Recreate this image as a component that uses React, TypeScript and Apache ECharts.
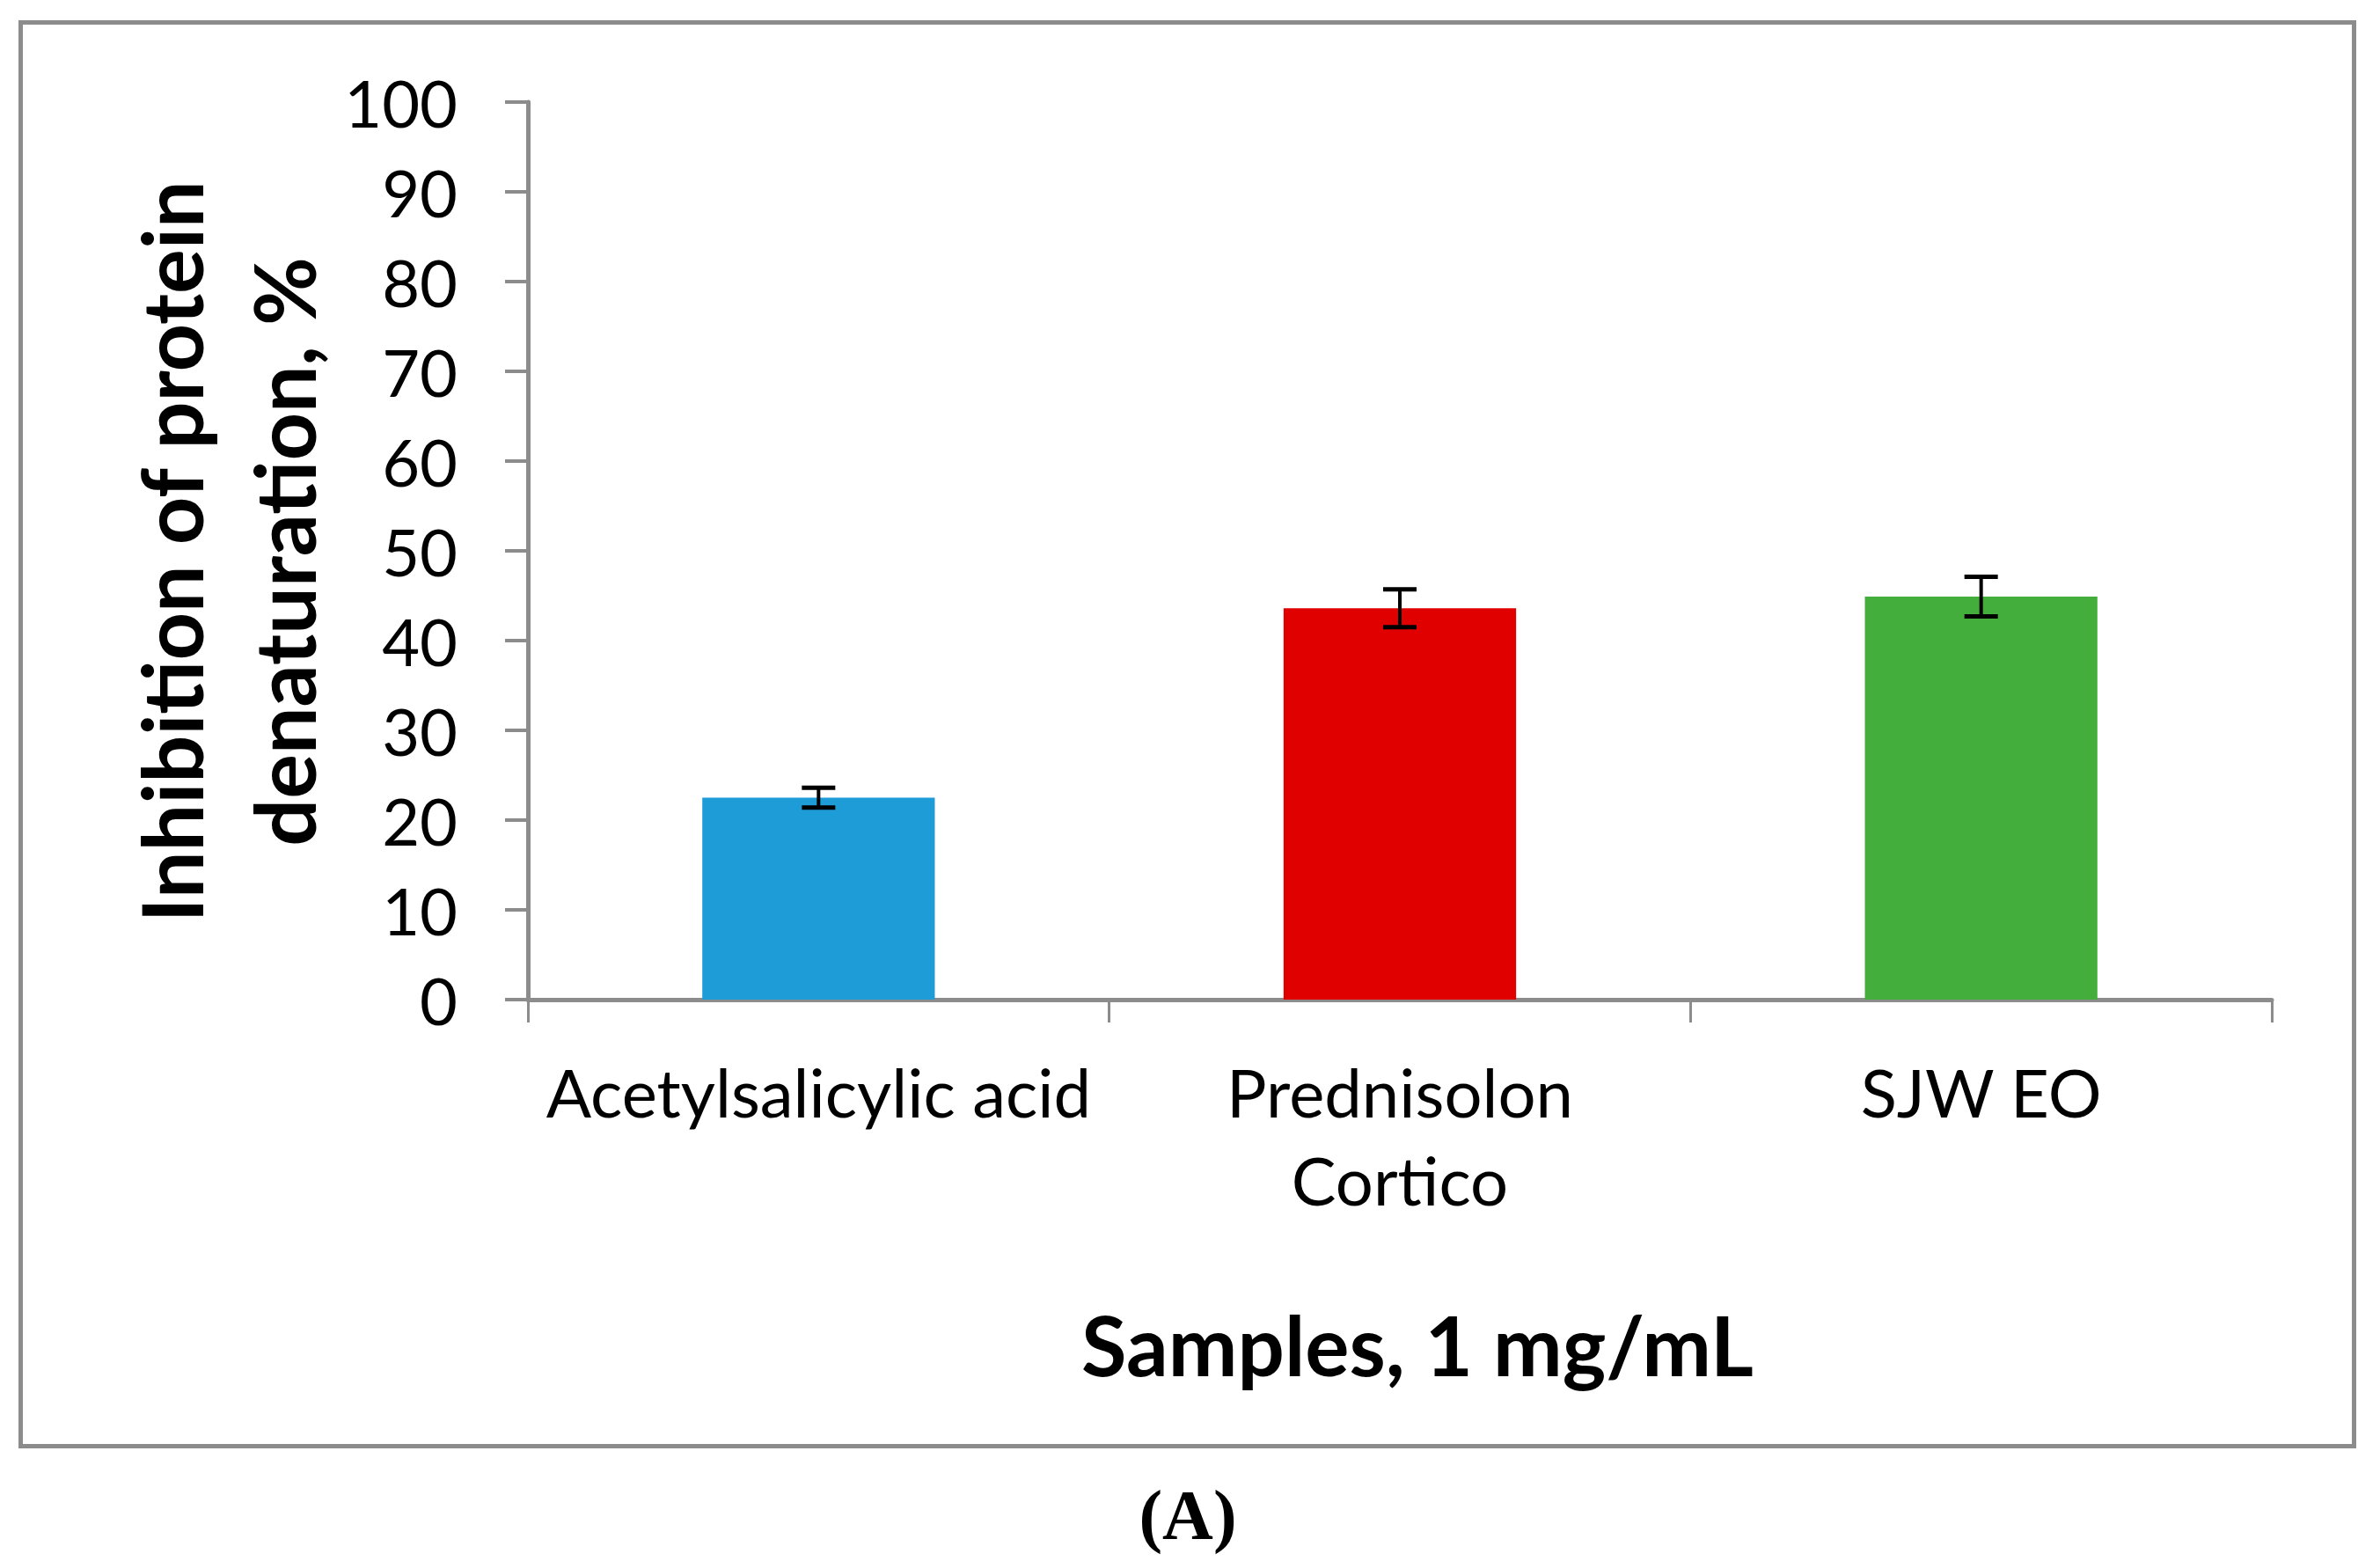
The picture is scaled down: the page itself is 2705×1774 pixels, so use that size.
import React, { useEffect, useRef } from "react";
import * as echarts from "echarts";

const categories = ["Acetylsalicylic acid", "Prednisolon\nCortico", "SJW EO"];
const values = [22.5, 43.6, 44.9];
const errors = [1.1, 2.1, 2.2];
const barColors = ["#1e9cd8", "#e00000", "#43ae3b"];
const yTicks = { min: 0, max: 100, interval: 10 };

const FONT = "Lato";
const AXIS_GRAY = "#8c8c8c";

export default function App() {
  const ref = useRef<HTMLDivElement>(null);
  useEffect(() => {
    document.body.style.margin = "0";
    const chart = echarts.init(ref.current!, null, { renderer: "svg" });
    const option = {
      animation: false,
      backgroundColor: "#ffffff",
      grid: { left: 600, right: 123, top: 116, bottom: 638, containLabel: false },
      xAxis: {
        type: "category",
        data: categories,
        boundaryGap: true,
        axisLine: { lineStyle: { color: AXIS_GRAY, width: 5 } },
        axisTick: { show: true, length: 26, lineStyle: { color: AXIS_GRAY, width: 3 }, alignWithLabel: false },
        axisLabel: {
          color: "#000",
          fontFamily: FONT,
          fontSize: 76,
          lineHeight: 100,
          margin: 54,
          interval: 0,
        },
      },
      yAxis: {
        type: "value",
        min: yTicks.min,
        max: yTicks.max,
        interval: yTicks.interval,
        splitLine: { show: false },
        axisLine: { show: true, lineStyle: { color: AXIS_GRAY, width: 5 } },
        axisTick: { show: true, length: 26, lineStyle: { color: AXIS_GRAY, width: 4 } },
        axisLabel: { color: "#000", fontFamily: FONT, fontSize: 74, margin: 80 },
      },
      series: [
        {
          type: "bar",
          barWidth: "40%",
          data: values.map((v, i) => ({ value: v, itemStyle: { color: barColors[i] } })),
        },
        {
          type: "custom",
          data: values.map((v, i) => [i, v, errors[i]]),
          z: 10,
          renderItem: (params: any, api: any) => {
            const x = api.value(0);
            const v = api.value(1);
            const e = api.value(2);
            const top = api.coord([x, v + e]);
            const bot = api.coord([x, v - e]);
            const hw = 19;
            const style = { stroke: "#000", lineWidth: 4 };
            const capStyle = { stroke: "#000", lineWidth: 5 };
            return {
              type: "group",
              children: [
                { type: "line", shape: { x1: top[0], y1: top[1], x2: bot[0], y2: bot[1] }, style },
                { type: "line", shape: { x1: top[0] - hw, y1: top[1], x2: top[0] + hw, y2: top[1] }, style: capStyle },
                { type: "line", shape: { x1: bot[0] - hw, y1: bot[1], x2: bot[0] + hw, y2: bot[1] }, style: capStyle },
              ],
            };
          },
        },
      ],
      graphic: [
        {
          type: "rect",
          shape: { x: 23.5, y: 25.5, width: 2652, height: 1618 },
          style: { fill: "none", stroke: AXIS_GRAY, lineWidth: 5 },
          z: -1,
        },
        {
          type: "text",
          x: 258,
          y: 627,
          rotation: Math.PI / 2,
          style: {
            text: "Inhibition of protein\ndenaturation, %",
            fontFamily: FONT,
            fontWeight: "bold",
            fontSize: 95,
            lineHeight: 128,
            fill: "#000",
            align: "center",
            verticalAlign: "middle",
          },
        },
        {
          type: "text",
          x: 1611,
          y: 1527,
          style: {
            text: "Samples, 1 mg/mL",
            fontFamily: FONT,
            fontWeight: "bold",
            fontSize: 94,
            fill: "#000",
            align: "center",
            verticalAlign: "middle",
          },
        },
        {
          type: "text",
          x: 1350,
          y: 1722,
          style: {
            text: "(A)",
            fontFamily: "Liberation Serif",
            fontWeight: "bold",
            fontSize: 80,
            fill: "#000",
            align: "center",
            verticalAlign: "middle",
          },
        },
      ],
    };
    chart.setOption(option);
    return () => chart.dispose();
  }, []);
  return <div ref={ref} style={{ width: 2705, height: 1774 }} />;
}
